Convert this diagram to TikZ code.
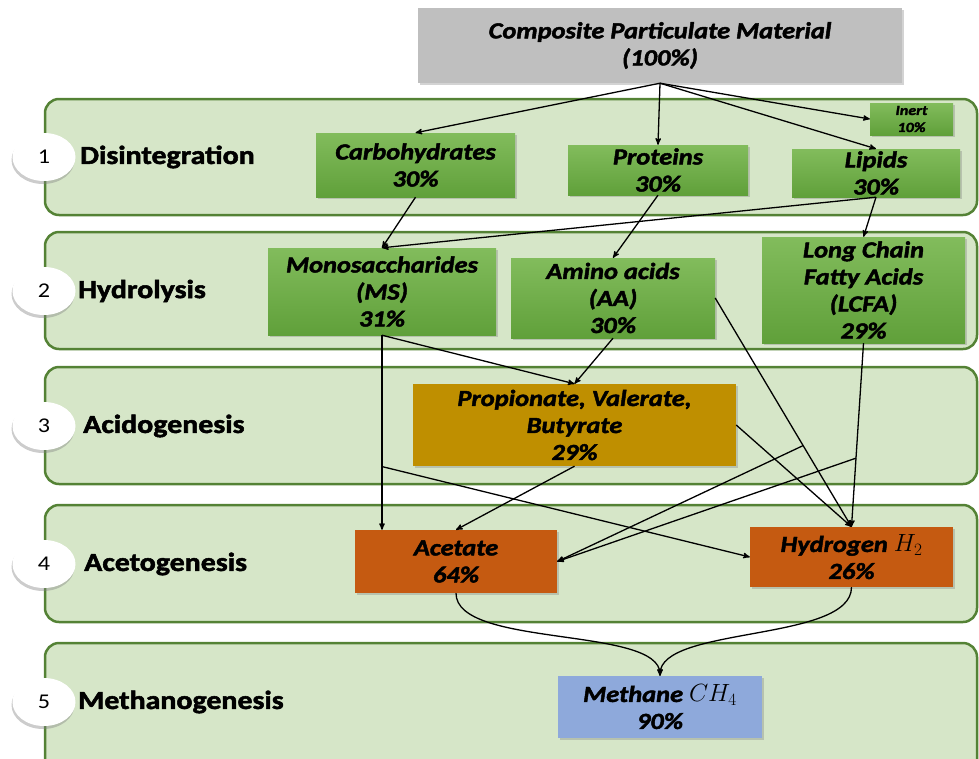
\documentclass[tikz,border=0pt]{standalone}
\usepackage{fontspec}
\setmainfont{Carlito}[FakeStretch=1.15,
  BoldFeatures={FakeBold=2},BoldItalicFeatures={FakeBold=2}]
\usepackage{tikz}
\usetikzlibrary{arrows,shadows,calc,shapes.geometric}

\definecolor{bandfill}{RGB}{214,230,200}
\definecolor{bandline}{RGB}{84,130,53}
\definecolor{greentop}{RGB}{130,188,92}
\definecolor{greenbot}{RGB}{96,160,58}
\definecolor{compgray}{RGB}{191,191,191}
\definecolor{vfagold}{RGB}{191,143,0}
\definecolor{acorange}{RGB}{197,90,17}
\definecolor{methblue}{RGB}{142,169,219}

\begin{document}
\begin{tikzpicture}[x=1pt,y=-1pt,-,>=stealth',
    band/.style={draw=bandline,line width=2.5pt,fill=bandfill,rounded corners=14pt},
    stage node/.style={ellipse,fill=white,minimum width=63pt,minimum height=48pt,
      drop shadow={shadow xshift=-1pt,shadow yshift=-3pt,opacity=0.4},
      font=\fontsize{21}{24}\selectfont},
    stage label/.style={anchor=west,inner sep=0pt,font=\fontsize{26}{30}\selectfont\bfseries},
    box/.style={align=center,inner sep=1pt,
      font=\fontsize{23}{27}\selectfont\bfseries\itshape,
      drop shadow={shadow xshift=2pt,shadow yshift=-2pt,opacity=0.35}},
    green node/.style={box,top color=greentop,bottom color=greenbot},
    link/.style={->,line width=1.3pt}]

  \useasboundingbox (0,0) rectangle (979,758);
  \clip (0,0) rectangle (979,758);

  % stage bands
  \path[band] (45,99) rectangle (977,215);
  \path[band] (45,232) rectangle (977,349);
  \path[band] (45,367) rectangle (977,484);
  \path[band] (45,505) rectangle (977,622);
  \path[band] (45,643) rectangle (977,790);

  \node[stage node] (1) at (44,157) {1};
  \node[stage node] (2) at (44,291) {2};
  \node[stage node] (3) at (44,426) {3};
  \node[stage node] (4) at (44,564) {4};
  \node[stage node] (5) at (44,702) {5};

  \node[stage label] at (80,157) {Disintegration};
  \node[stage label] at (78,291) {Hydrolysis};
  \node[stage label] at (83,426) {Acidogenesis};
  \node[stage label] at (84,564) {Acetogenesis};
  \node[stage label] at (78,702) {Methanogenesis};

  % substrates and products
  \node[box,fill=compgray,minimum width=484pt,minimum height=75pt] (comp) at (660,45.5)
    {Composite Particulate Material\\(100\%)};
  \node[green node,minimum width=199pt,minimum height=64pt] (carb) at (415.5,165) {Carbohydrates\\30\%};
  \node[green node,minimum width=180pt,minimum height=50pt] (prot) at (658,170) {Proteins\\30\%};
  \node[green node,minimum width=168pt,minimum height=48pt] (lip) at (876,173) {Lipids\\30\%};
  \node[green node,minimum width=83pt,minimum height=32pt,
    font=\fontsize{14}{17}\selectfont\bfseries\itshape] (inert) at (911.5,119) {Inert\\10\%};

  \node[green node,minimum width=228pt,minimum height=87pt] (ms) at (382,291.5) {Monosaccharides\\(MS)\\31\%};
  \node[green node,minimum width=204pt,minimum height=80pt] (aa) at (613,298) {Amino acids\\(AA)\\30\%};
  \node[green node,minimum width=203pt,minimum height=106pt] (lcfa) at (863.5,290) {Long Chain\\Fatty Acids\\(LCFA)\\29\%};

  \node[box,fill=vfagold,minimum width=323pt,minimum height=82pt] (vfa) at (574.5,425) {Propionate, Valerate,\\Butyrate\\29\%};

  \node[box,fill=acorange,minimum width=202pt,minimum height=63pt] (ac) at (456,561.5) {Acetate\\64\%};
  \node[box,fill=acorange,minimum width=203pt,minimum height=60pt] (h2) at (851.5,557) {Hydrogen $H_2$\\26\%};

  \node[box,fill=methblue,minimum width=204pt,minimum height=62pt] (ch4) at (660,707) {Methane $CH_4$\\90\%};

  % branch points on the long connectors
  \coordinate (msj) at ($(ms.south)!0.675!(ms.south |- ac.north)$);
  \coordinate (aaj) at ($(aa.east)!0.645!(h2.north)$);
  \coordinate (lcj) at ($(lcfa.south)!0.626!(h2.north)$);

  \path[link]
  (comp.south) edge (carb.north)
  (comp.south) edge (prot.north)
  (comp.south) edge (lip.north)
  (comp.south) edge (inert.west)
  (carb.south) edge (ms.north)
  (lip.south) edge (ms.north)
  (lip.south) edge (lcfa.north)
  (prot.south) edge (aa.north)
  (ms.south) edge (vfa.north)
  (aa.south) edge (vfa.north)
  (ms.south) edge (ms.south |- ac.north)
  (msj) edge (h2.west)
  (aa.east) edge (h2.north)
  (vfa.east) edge (h2.north)
  (lcfa.south) edge (h2.north)
  (aaj) edge (ac.east)
  (lcj) edge (ac.east)
  (vfa.south) edge (ac.north);

  \draw[link] (ac.south) .. controls +(0,55) and +(0,-50) .. (ch4.north);
  \draw[link] (h2.south) .. controls +(0,55) and +(0,-50) .. (ch4.north);
\end{tikzpicture}
\end{document}
